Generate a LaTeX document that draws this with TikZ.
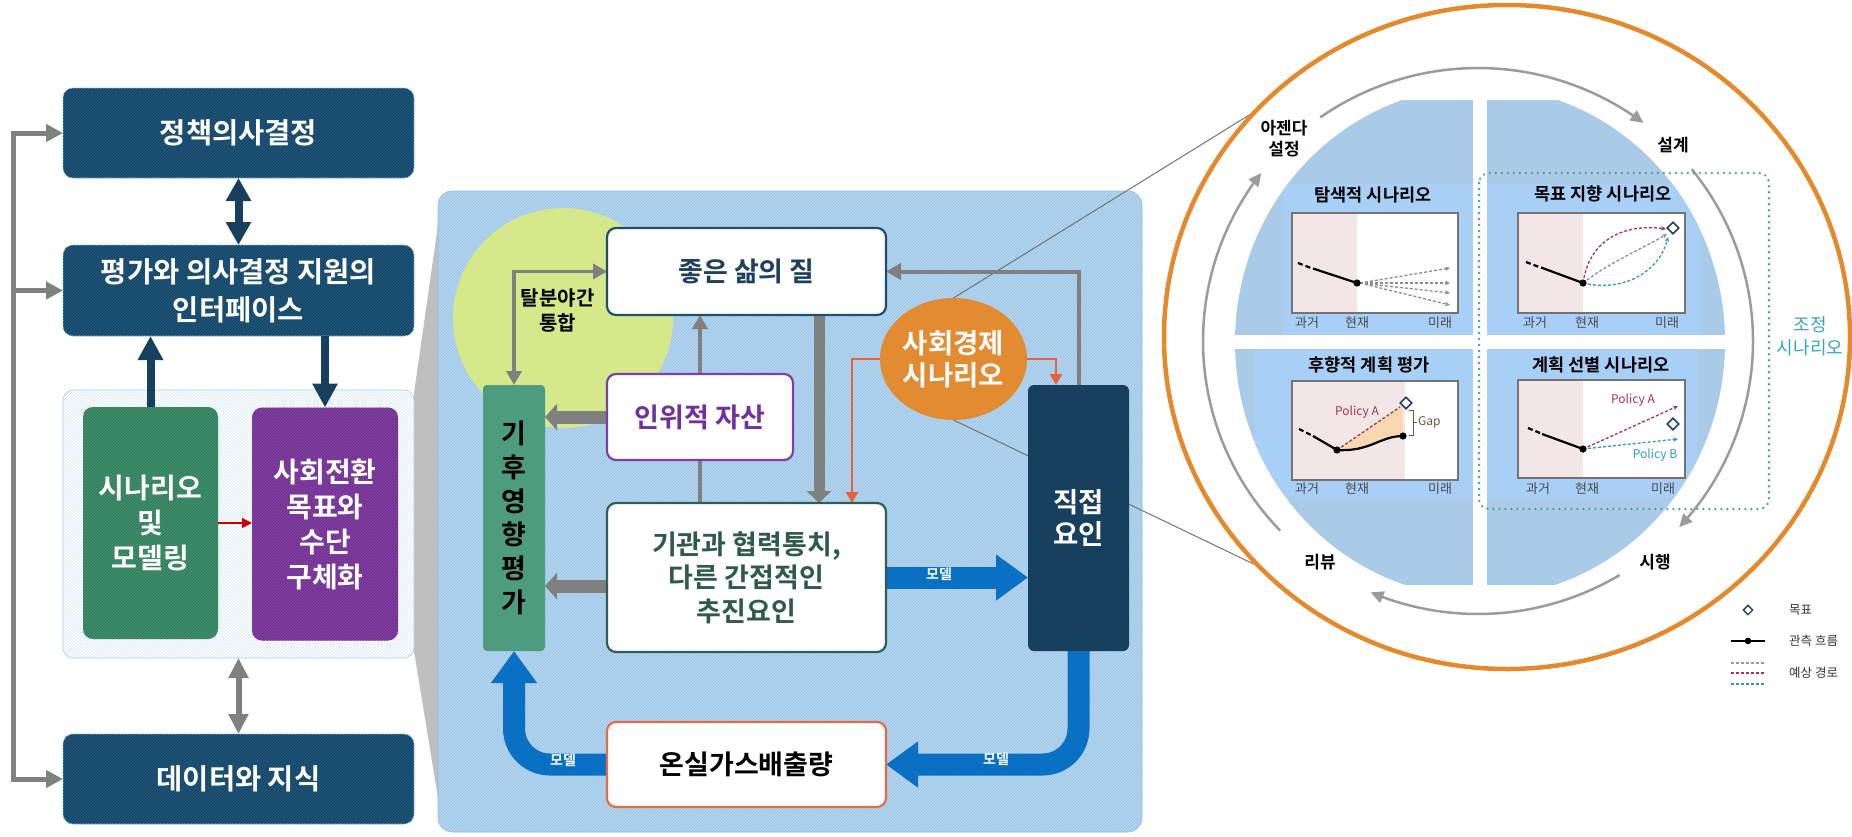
\documentclass[tikz,border=0pt]{standalone}
\usepackage{fontspec}
\setmainfont{Noto Sans CJK KR}[BoldFont={Noto Sans CJK KR Bold}]
\usetikzlibrary{arrows.meta,patterns,calc,shapes.geometric}
\definecolor{navyA}{HTML}{1F557B}
\definecolor{navyB}{HTML}{143F5E}
\definecolor{navyArr}{HTML}{17405F}
\definecolor{greenA}{HTML}{40946F}
\definecolor{greenB}{HTML}{2C6F51}
\definecolor{purpA}{HTML}{8240A3}
\definecolor{purpB}{HTML}{692A87}
\definecolor{contB}{HTML}{D3E7F5}
\definecolor{contBorder}{HTML}{9CCBE3}
\definecolor{panelA}{HTML}{B5D5EE}
\definecolor{panelB}{HTML}{98C3E6}
\definecolor{panelBorder}{HTML}{8DBFE0}
\definecolor{ygreen}{HTML}{D5E98B}
\definecolor{goodB}{HTML}{1F4E6E}
\definecolor{goodT}{HTML}{1F3F5E}
\definecolor{artC}{HTML}{7B3FA8}
\definecolor{artT}{HTML}{7030A0}
\definecolor{instB}{HTML}{2F5E55}
\definecolor{instT}{HTML}{2E5A4E}
\definecolor{ghgB}{HTML}{E86A45}
\definecolor{climC}{HTML}{4E9C80}
\definecolor{dirC}{HTML}{173F5E}
\definecolor{socC}{HTML}{E38B31}
\definecolor{orRed}{HTML}{E8613F}
\definecolor{grayArr}{HTML}{808080}
\definecolor{blueArr}{HTML}{0A70C4}
\definecolor{funnelC}{HTML}{BFBFBF}
\definecolor{ringOr}{HTML}{E4892C}
\definecolor{ringGray}{HTML}{9B9B9B}
\definecolor{diskC}{HTML}{A9CBE7}
\definecolor{diskL}{HTML}{A8CFF6}
\definecolor{pastC}{HTML}{F2E6E6}
\definecolor{tealDot}{HTML}{3AA597}
\definecolor{tealTxt}{HTML}{34A7B6}
\definecolor{polRed}{HTML}{A3344E}
\definecolor{polTeal}{HTML}{2B9DAE}
\definecolor{legT}{HTML}{333333}
\definecolor{axisT}{HTML}{4A4A4A}
\definecolor{gapT}{HTML}{6B5A3A}
\definecolor{gapFill}{HTML}{F8D8B0}
\definecolor{diaC}{HTML}{1F3F66}
\pgfdeclarelayer{back}
\pgfdeclarelayer{mid}
\pgfsetlayers{back,mid,main}
\tikzset{
  navybox/.style={rounded corners=10pt, fill=navyA, postaction={pattern=north east lines, pattern color=navyB},
    draw=contBorder, line width=0.6pt, text=white, align=center, inner sep=0pt, outer sep=0pt,
    minimum width=351pt, minimum height=90pt, font=\bfseries\fontsize{28.5}{38}\selectfont},
  greenbox/.style={rounded corners=10pt, fill=greenA, postaction={pattern=north east lines, pattern color=greenB},
    text=white, align=center, inner sep=0pt, outer sep=0pt, font=\bfseries\fontsize{28}{35}\selectfont},
  purpbox/.style={rounded corners=10pt, fill=purpA, postaction={pattern=north east lines, pattern color=purpB},
    text=white, align=center, inner sep=0pt, outer sep=0pt, font=\bfseries\fontsize{28}{35}\selectfont},
  contbox/.style={rounded corners=10pt, fill=white, postaction={pattern=north east lines, pattern color=contB},
    draw=contBorder, line width=0.6pt, inner sep=0pt, outer sep=0pt},
  navyarrow/.style={draw=navyArr, line width=8pt, {Triangle[length=23pt,width=24pt]}-{Triangle[length=23pt,width=24pt]}},
  navyup/.style={draw=navyArr, line width=8pt, -{Triangle[length=24pt,width=24pt]}},
  graydbl/.style={draw=grayArr, line width=6pt, {Triangle[length=20pt,width=19pt]}-{Triangle[length=20pt,width=19pt]}},
  bracket/.style={draw=grayArr, line width=5pt, -{Triangle[length=17pt,width=17pt]}},
  wbox/.style={rounded corners=9pt, fill=white, line width=2.2pt, align=center, inner sep=0pt, outer sep=0pt,
    font=\bfseries\fontsize{27}{33.6}\selectfont},
  thinarrow/.style={draw=grayArr, line width=3.5pt},
  thicktip/.style={-{Triangle[length=12pt,width=26pt]}},
  orarrow/.style={draw=orRed, line width=2.5pt, -{Triangle[length=11pt,width=12pt]}},
  bluearrow/.style={draw=blueArr, line width=22pt, -{Triangle[length=32pt,width=44pt]}},
  mlabel/.style={text=white, font=\bfseries\fontsize{14}{16}\selectfont, inner sep=0pt},
  funline/.style={draw=black!55, line width=1pt},
  ring/.style={draw=ringGray, line width=2.5pt, -{Triangle[length=13pt,width=12pt]}},
  qtitle/.style={font=\bfseries\fontsize{17.5}{20}\selectfont, inner sep=0pt},
  axlab/.style={font=\fontsize{13}{15}\selectfont, text=axisT, inner sep=0pt},
  stage/.style={font=\bfseries\fontsize{17}{21}\selectfont, align=center, inner sep=0pt},
  chartframe/.style={draw=black!55, line width=1.2pt},
  obs/.style={draw=black, line width=2.2pt},
  obsdash/.style={draw=black, line width=2.2pt, dash pattern=on 5pt off 3pt},
  proj/.style={line width=1.3pt, dash pattern=on 3pt off 2pt, -{Stealth[length=5pt,width=4.5pt]}},
  goal/.style={diamond, draw=diaC, fill=white, line width=1.6pt, minimum size=12pt, inner sep=0pt},
  legtxt/.style={font=\fontsize{12.5}{15}\selectfont, text=legT, anchor=west, inner sep=0pt},
  pol/.style={font=\fontsize{12}{14}\selectfont, inner sep=0pt}
}
\begin{document}
\begin{tikzpicture}[x=1pt,y=-1pt]
\useasboundingbox (0,0) rectangle (1852,836);

% ================= LEFT PANEL =================
\node[navybox] (box1) at (238.5,133) {정책의사결정};
\node[navybox, minimum height=91pt] (box2) at (238.5,290.5) {평가와 의사결정 지원의\\인터페이스};
\node[contbox, minimum width=351pt, minimum height=268pt] (cont) at (238.5,524) {};
\node[greenbox, minimum width=135pt, minimum height=232pt] (green) at (150.5,523) {시나리오\\및\\모델링};
\node[purpbox, minimum width=146pt, minimum height=233pt] (purp) at (325,524) {사회전환\\목표와\\수단\\구체화};
\node[navybox] (box3) at (238.5,779) {데이터와 지식};

\draw[navyarrow] (box1.south) -- (box2.north);
\draw[navyup] (green.north) -- (green.north |- box2.south);
\draw[navyup] (box2.south -| purp.north) -- (purp.north);
\draw[draw=red!80!black, line width=1.6pt, -{Triangle[length=10pt,width=10pt]}] (green.east) -- (green.east -| purp.west);
\draw[graydbl] (cont.south) -- (box3.north);
\coordinate (bx) at (13,0);
\draw[draw=grayArr, line width=5pt, {Triangle[length=17pt,width=17pt]}-{Triangle[length=17pt,width=17pt]}] (box1.west) -| (bx |- box3.west) -- (box3.west);
\draw[bracket] (bx |- box2.west) -- (box2.west);

% ================= CENTER PANEL =================
\begin{pgfonlayer}{back}
\fill[funnelC] (414,393) -- (438,225) -- (438,798) -- (414,651) -- cycle;
\node[rounded corners=14pt, fill=panelA, postaction={pattern=north east lines, pattern color=panelB},
  draw=panelBorder, line width=0.6pt, minimum width=704pt, minimum height=641pt, inner sep=0pt] (panel) at (790,511.5) {};
\node[circle, fill=ygreen, minimum size=220pt, inner sep=0pt] (ygc) at (563,318) {};
\end{pgfonlayer}

\node[wbox, draw=goodB, text=goodT, minimum width=279pt, minimum height=87pt] (good) at (746.5,271.5) {좋은 삶의 질};
\node[wbox, draw=artC, text=artT, minimum width=186pt, minimum height=86pt] (art) at (700,417) {인위적 자산};
\node[wbox, draw=instB, text=instT, minimum width=279pt, minimum height=149pt] (inst) at (746.5,577.5) {기관과 협력통치,\\다른 간접적인\\추진요인};
\node[wbox, draw=ghgB, text=black, minimum width=279pt, minimum height=85pt] (ghg) at (746.5,764.5) {온실가스배출량};
\node[rounded corners=4pt, fill=climC, minimum width=62pt, minimum height=266pt, inner sep=0pt, outer sep=0pt,
  align=center, font=\bfseries\fontsize{27}{33.7}\selectfont] (clim) at (514,518) {기\\후\\영\\향\\평\\가};
\node[rounded corners=6pt, fill=dirC, minimum width=101pt, minimum height=266pt, inner sep=0pt, outer sep=0pt,
  align=center, text=white, font=\bfseries\fontsize{27.5}{32}\selectfont] (direct) at (1078.5,518) {직접\\요인};
\node[ellipse, fill=socC, minimum width=147pt, minimum height=122pt, inner sep=0pt, outer sep=0pt,
  align=center, text=white, font=\bfseries\fontsize{27.5}{32}\selectfont] (soc) at (953.5,359) {사회경제\\시나리오};
\node[align=center, inner sep=0pt, font=\bfseries\fontsize{20}{25}\selectfont] (tal) at (557.7,311) {탈분야간\\통합};
\node[mlabel] (m1) at (939,574) {모델};
\node[mlabel] (m2) at (996,759) {모델};
\node[mlabel] (m3) at (563,760) {모델};

\coordinate (gx) at (819,0);
\coordinate (y586) at (0,586);
\coordinate (ox1) at (852,0);
\coordinate (ox2) at (1056,0);
\coordinate (fl1) at (1254,112);
\coordinate (fl2) at (1262,568);

\begin{pgfonlayer}{mid}
\draw[funline] (soc.north) -- (fl1);
\draw[funline] (soc.south) -- (fl2);
\draw[thinarrow, {Triangle[length=14pt,width=15pt]}-{Triangle[length=14pt,width=15pt]}] (clim.north) |- (good.west);
\draw[thinarrow, -{Triangle[length=14pt,width=15pt]}] (inst.north -| art.north) -- (good.south -| art.north);
\draw[draw=grayArr, line width=13pt, thicktip] (art.west) -- (clim.east |- art.west);
\draw[draw=grayArr, line width=13pt, thicktip] (inst.west |- y586) -- (clim.east |- y586);
\draw[draw=grayArr, line width=11pt, -{Triangle[length=12pt,width=24pt]}] (good.south -| gx) -- (inst.north -| gx);
\draw[draw=grayArr, line width=4pt, -{Triangle[length=15pt,width=16pt]}] (direct.north) |- (good.east);
\draw[orarrow] (soc.west) -| (inst.north -| ox1);
\draw[orarrow] (soc.east) -| (direct.north -| ox2);
\draw[bluearrow] (inst.east) -- (inst.east -| direct.west);
\draw[bluearrow, rounded corners=36pt] (direct.south) |- (ghg.east);
\draw[bluearrow, rounded corners=36pt] (ghg.west) -| (clim.south);
\end{pgfonlayer}

% ================= CIRCLE =================
\draw[draw=ringOr, line width=4.5pt] (1507,337) ellipse [x radius=343pt, y radius=332pt];
\draw[ring] plot[smooth, variable=\t, domain=125:53, samples=40] ({1478+275*cos(\t)},{341-273*sin(\t)});
\draw[ring] plot[smooth, variable=\t, domain=39:-43, samples=40] ({1478+275*cos(\t)},{341-273*sin(\t)});
\draw[ring] plot[smooth, variable=\t, domain=-59:-113, samples=40] ({1478+275*cos(\t)},{341-273*sin(\t)});
\draw[ring] plot[smooth, variable=\t, domain=224:142, samples=40] ({1478+275*cos(\t)},{341-273*sin(\t)});

\begin{scope}
  \clip (1480,342) ellipse [x radius=245pt, y radius=255pt];
  \clip (1230,100) rectangle (1730,585);
  \fill[diskC] (1230,100) rectangle (1730,585);
  \fill[diskL] (1283,184) rectangle (1473,335);
  \fill[diskL] (1487,184) rectangle (1700,335);
  \fill[diskL] (1255,349) rectangle (1473,498);
  \fill[diskL] (1487,349) rectangle (1697,498);
\end{scope}
\fill[white] (1473,90) rectangle (1487,600);
\fill[white] (1225,335) rectangle (1735,349);

% --- chart TL
\fill[white] (1292,213) rectangle (1458,313);
\fill[pastC] (1292,213) rectangle (1357,313);
\draw[chartframe] (1292,213) rectangle (1458,313);
\draw[obsdash] (1298,263) -- (1311,268);
\draw[obs] (1313,268.5) -- (1357,283);
\draw[proj, draw=black!45] (1360,283) -- (1450,268);
\draw[proj, draw=black!45] (1360,283) -- (1450,283);
\draw[proj, draw=black!45] (1360,283) -- (1450,293);
\draw[proj, draw=black!45] (1360,283) -- (1450,305);
\fill (1357,283) circle[radius=3.6pt];
% --- chart TR
\fill[white] (1518,213) rectangle (1685,313);
\fill[pastC] (1518,213) rectangle (1583,313);
\draw[chartframe] (1518,213) rectangle (1685,313);
\draw[obsdash] (1526,262) -- (1539,267);
\draw[obs] (1541,267.5) -- (1583,283);
\draw[proj, draw=polRed] (1583,283) .. controls (1590,235) and (1630,224) .. (1666,229);
\draw[proj, draw=black!45] (1583,283) .. controls (1610,262) and (1640,250) .. (1667,234);
\draw[proj, draw=polTeal] (1583,283) .. controls (1625,293) and (1660,270) .. (1668,237);
\fill (1583,283) circle[radius=3.6pt];
\node[goal] (g1) at (1673,228) {};
% --- chart BL
\fill[white] (1292,381) rectangle (1458,480);
\fill[pastC] (1292,381) rectangle (1405,480);
\fill[gapFill] (1337,450) -- (1402,406) -- (1403,436) .. controls (1380,436) and (1370,452) .. (1337,450) -- cycle;
\draw[chartframe] (1292,381) rectangle (1458,480);
\draw[obsdash] (1299,429) -- (1311,435);
\draw[obs] (1313,436) -- (1337,450);
\draw[obs] (1337,450) .. controls (1370,452) and (1380,436) .. (1403,436);
\draw[proj, draw=polRed, -] (1337,450) -- (1400,407);
\fill (1337,450) circle[radius=3.6pt];
\fill (1403,436) circle[radius=3.6pt];
\node[goal] (g2) at (1406,403) {};
\draw[draw=gapT, line width=0.8pt] (1409,410) -- (1413,410) -- (1413,435) -- (1409,435) (1413,422.5) -- (1417,422.5);
\node[pol, text=gapT, anchor=west] (gap) at (1418,422) {Gap};
\node[pol, text=polRed] (pa1) at (1357,412) {Policy A};
% --- chart BR
\fill[white] (1518,380) rectangle (1685,478);
\fill[pastC] (1518,380) rectangle (1583,478);
\draw[chartframe] (1518,380) rectangle (1685,478);
\draw[obsdash] (1528,428) -- (1540,433);
\draw[obs] (1542,434) -- (1583,449);
\draw[proj, draw=polRed] (1583,449) -- (1678,406);
\draw[proj, draw=polTeal] (1583,449) -- (1678,439);
\fill (1583,449) circle[radius=3.6pt];
\node[goal] (g3) at (1673,424) {};
\node[pol, text=polRed] (pa2) at (1633,400) {Policy A};
\node[pol, text=polTeal] (pb2) at (1655,455) {Policy B};

% titles and axis labels
\node[qtitle] (t1) at (1373,195) {탐색적 시나리오};
\node[qtitle] (t2) at (1603,194) {목표 지향 시나리오};
\node[qtitle] (t3) at (1369,365) {후향적 계획 평가};
\node[qtitle] (t4) at (1601,365) {계획 선별 시나리오};
\node[axlab] (a11) at (1307,323) {과거};
\node[axlab] (a12) at (1357,323) {현재};
\node[axlab] (a13) at (1440,323) {미래};
\node[axlab] (a21) at (1535,323) {과거};
\node[axlab] (a22) at (1587,323) {현재};
\node[axlab] (a23) at (1667,323) {미래};
\node[axlab] (a31) at (1307,489) {과거};
\node[axlab] (a32) at (1357,489) {현재};
\node[axlab] (a33) at (1440,489) {미래};
\node[axlab] (a41) at (1538,489) {과거};
\node[axlab] (a42) at (1587,489) {현재};
\node[axlab] (a43) at (1663,489) {미래};

% dotted adjustment frame
\draw[draw=tealDot, line width=2.6pt, dash pattern=on 0pt off 6pt, line cap=round, rounded corners=10pt] (1479,173) rectangle (1769,509);
\node[align=center, text=tealTxt, inner sep=0pt, font=\fontsize{18}{23}\selectfont] (adj) at (1810,336) {조정\\시나리오};

% stages
\node[stage] (s1) at (1284,139) {아젠다\\설정};
\node[stage] (s2) at (1673,145) {설계};
\node[stage] (s3) at (1320,562) {리뷰};
\node[stage] (s4) at (1655,562) {시행};

% legend
\node[goal, minimum size=10pt, line width=1.4pt] (lg1) at (1748,610) {};
\node[legtxt] (lt1) at (1789,610) {목표};
\coordinate (lo1) at (1731,641);
\coordinate (lo2) at (1765,641);
\draw[draw=black, line width=2.2pt] (lo1) -- (lo2);
\fill (1748,641) circle[radius=3.3pt];
\node[legtxt] (lt2) at (1789,641) {관측 흐름};
\draw[draw=black!40, line width=1.1pt, dash pattern=on 3pt off 2pt] (1731,663) -- (1765,663);
\draw[draw=polRed, line width=1.1pt, dash pattern=on 3pt off 2pt] (1731,673) -- (1765,673);
\draw[draw=polTeal, line width=1.1pt, dash pattern=on 3pt off 2pt] (1731,684) -- (1765,684);
\node[legtxt] (lt3) at (1789,673) {예상 경로};
\end{tikzpicture}
\end{document}
